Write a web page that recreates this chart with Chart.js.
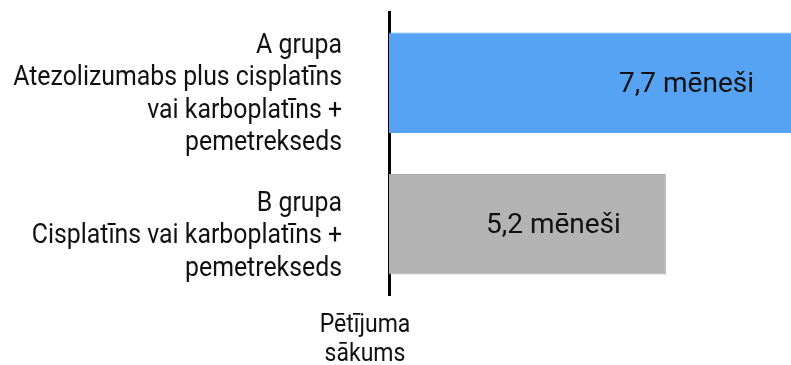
<!DOCTYPE html>
<html>
<head>
<meta charset="utf-8">
<script src="https://cdn.jsdelivr.net/npm/chart.js@4"></script>
<style>
  html, body { margin: 0; padding: 0; background: #fff; }
  #wrap { width: 791px; height: 365px; }
</style>
</head>
<body>
<div id="wrap"><canvas id="myChart"></canvas></div>
<script>
// data
const groups = [
  ['A grupa', 'Atezolizumabs plus cisplatīns', 'vai karboplatīns +', 'pemetrekseds'],
  ['B grupa', 'Cisplatīns vai karboplatīns +', 'pemetrekseds']
];
const months = [7.7, 5.2];
const valueLabels = ['7,7 mēneši', '5,2 mēneši'];
const startLabel = ['Pētījuma', 'sākums'];
const barColors = ['#55a3f2', '#b3b3b3'];
const barBorders = ['#55a3f2', '#a9a9a9'];

const FONT = 'Roboto, "Open Sans", sans-serif';

// narrow text: squeeze it a bit horizontally
function squeezed(ctx, t, x, y, sx) {
  ctx.save();
  ctx.translate(x, y);
  ctx.scale(sx, 1);
  ctx.fillText(t, 0, 0);
  ctx.restore();
}

// draws the group names, the month labels and the start text
const textPlugin = {
  id: 'textPlugin',
  afterDatasetsDraw(chart) {
    const ctx = chart.ctx;
    const x = chart.scales.x;
    const y = chart.scales.y;
    ctx.save();
    ctx.fillStyle = '#111';
    ctx.font = '27px ' + FONT;
    ctx.textBaseline = 'middle';

    // group labels, right aligned left of the axis
    ctx.textAlign = 'right';
    groups.forEach((lines, i) => {
      const cy = y.getPixelForValue(i) + 12;
      const lh = 32.5;
      const top = cy - (lines.length - 1) * lh / 2;
      lines.forEach((t, j) => squeezed(ctx, t, 342, top + j * lh, 0.92));
    });

    // value labels inside bars
    ctx.font = '28px ' + FONT;
    months.forEach((m, i) => {
      const px = x.getPixelForValue(m) - 45;
      const py = y.getPixelForValue(i) + 2;
      squeezed(ctx, valueLabels[i], px, py, 1);
    });

    // start of study text under the axis
    ctx.textAlign = 'center';
    ctx.font = '25px ' + FONT;
    const sx = x.getPixelForValue(0) - 24;
    startLabel.forEach((t, j) => squeezed(ctx, t, sx, 326 + j * 29, 0.92));
    ctx.restore();
  }
};

const myChart = document.getElementById('myChart');

new Chart(myChart, {
  type: 'bar',
  data: {
    labels: groups.map(g => g[0]),
    datasets: [{
      data: months,
      backgroundColor: barColors,
      borderColor: barBorders,
      borderWidth: 1,
      borderSkipped: 'left',
      categoryPercentage: 1,
      barPercentage: 0.71
    }]
  },
  options: {
    indexAxis: 'y',
    responsive: true,
    maintainAspectRatio: false,
    animation: false,
    events: [],
    layout: { padding: { left: 381, top: 12, right: 0, bottom: 70 } },
    plugins: {
      legend: { display: false },
      tooltip: { enabled: false }
    },
    scales: {
      x: {
        min: 0,
        max: 7.55,
        display: false
      },
      y: {
        grid: { display: false },
        border: { display: true, color: '#000', width: 3 },
        ticks: { display: false }
      }
    }
  },
  plugins: [textPlugin]
});
</script>
</body>
</html>
